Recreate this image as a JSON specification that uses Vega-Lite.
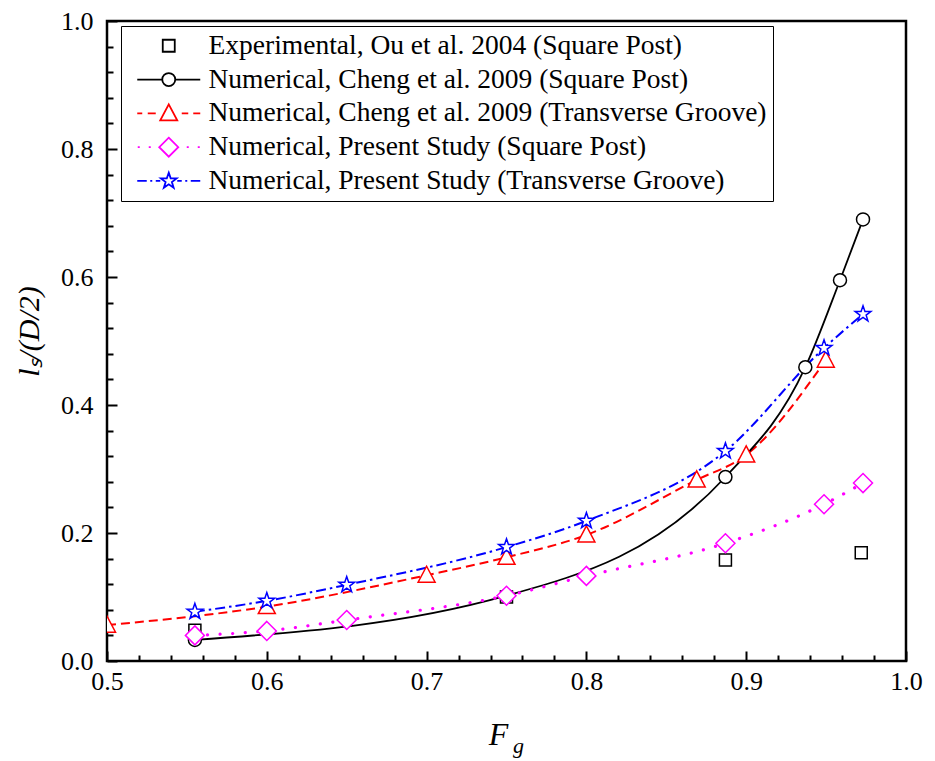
{
  "$schema": "https://vega.github.io/schema/vega-lite/v6.json",
  "autosize": "none",
  "width": 799,
  "height": 640,
  "padding": {"left": 107, "top": 21, "right": 29, "bottom": 100},
  "background": "white",
  "title": {"text": "g", "orient": "bottom", "anchor": "middle", "dx": 12, "offset": -14, "font": "Liberation Serif", "fontSize": 22, "fontStyle": "italic", "fontWeight": "normal", "color": "black"},
  "config": {
    "view": {"stroke": "black", "strokeWidth": 2.5},
    "font": "Liberation Serif"
  },
  "data": {"values": [
    {"series": "Experimental, Ou et al. 2004 (Square Post)", "x": 0.555, "y": 0.048},
    {"series": "Experimental, Ou et al. 2004 (Square Post)", "x": 0.75, "y": 0.1},
    {"series": "Experimental, Ou et al. 2004 (Square Post)", "x": 0.887, "y": 0.158},
    {"series": "Experimental, Ou et al. 2004 (Square Post)", "x": 0.972, "y": 0.169},
    {"series": "Numerical, Cheng et al. 2009 (Square Post)", "x": 0.555, "y": 0.033},
    {"series": "Numerical, Cheng et al. 2009 (Square Post)", "x": 0.75, "y": 0.102},
    {"series": "Numerical, Cheng et al. 2009 (Square Post)", "x": 0.887, "y": 0.2875},
    {"series": "Numerical, Cheng et al. 2009 (Square Post)", "x": 0.937, "y": 0.459},
    {"series": "Numerical, Cheng et al. 2009 (Square Post)", "x": 0.9587, "y": 0.595},
    {"series": "Numerical, Cheng et al. 2009 (Square Post)", "x": 0.9731, "y": 0.69},
    {"series": "Numerical, Cheng et al. 2009 (Transverse Groove)", "x": 0.5, "y": 0.056},
    {"series": "Numerical, Cheng et al. 2009 (Transverse Groove)", "x": 0.6, "y": 0.085},
    {"series": "Numerical, Cheng et al. 2009 (Transverse Groove)", "x": 0.7, "y": 0.134},
    {"series": "Numerical, Cheng et al. 2009 (Transverse Groove)", "x": 0.75, "y": 0.162},
    {"series": "Numerical, Cheng et al. 2009 (Transverse Groove)", "x": 0.8, "y": 0.197},
    {"series": "Numerical, Cheng et al. 2009 (Transverse Groove)", "x": 0.869, "y": 0.283},
    {"series": "Numerical, Cheng et al. 2009 (Transverse Groove)", "x": 0.9, "y": 0.322},
    {"series": "Numerical, Cheng et al. 2009 (Transverse Groove)", "x": 0.9498, "y": 0.47},
    {"series": "Numerical, Present Study (Square Post)", "x": 0.555, "y": 0.04},
    {"series": "Numerical, Present Study (Square Post)", "x": 0.6, "y": 0.047},
    {"series": "Numerical, Present Study (Square Post)", "x": 0.65, "y": 0.064},
    {"series": "Numerical, Present Study (Square Post)", "x": 0.75, "y": 0.102},
    {"series": "Numerical, Present Study (Square Post)", "x": 0.8, "y": 0.133},
    {"series": "Numerical, Present Study (Square Post)", "x": 0.887, "y": 0.184},
    {"series": "Numerical, Present Study (Square Post)", "x": 0.9487, "y": 0.245},
    {"series": "Numerical, Present Study (Square Post)", "x": 0.9731, "y": 0.278},
    {"series": "Numerical, Present Study (Transverse Groove)", "x": 0.555, "y": 0.077},
    {"series": "Numerical, Present Study (Transverse Groove)", "x": 0.6, "y": 0.094},
    {"series": "Numerical, Present Study (Transverse Groove)", "x": 0.65, "y": 0.119},
    {"series": "Numerical, Present Study (Transverse Groove)", "x": 0.75, "y": 0.178},
    {"series": "Numerical, Present Study (Transverse Groove)", "x": 0.8, "y": 0.219},
    {"series": "Numerical, Present Study (Transverse Groove)", "x": 0.887, "y": 0.328},
    {"series": "Numerical, Present Study (Transverse Groove)", "x": 0.9487, "y": 0.489},
    {"series": "Numerical, Present Study (Transverse Groove)", "x": 0.9731, "y": 0.542}
  ]},
  "layer": [
    {
      "encoding": {
        "x": {"field": "x", "type": "quantitative",
          "scale": {"domain": [0.5, 1.0], "nice": false, "zero": false},
          "axis": {
            "orient": "bottom", "offset": -10, "domain": false, "zindex": 1,
            "values": [0.5, 0.6, 0.7, 0.8, 0.9, 1.0],
            "format": ".1f",
            "ticks": true, "tickSize": 10, "tickWidth": 2, "tickColor": "black", "tickOpacity": 1,
            "grid": false,
            "labelFlush": false, "labelOverlap": false,
            "labelFont": "Liberation Serif", "labelFontSize": 26, "labelColor": "black", "labelPadding": 7,
            "title": "F", "titleFont": "Liberation Serif", "titleFontSize": 32, "titleFontStyle": "italic", "titleFontWeight": "normal", "titleColor": "black", "titlePadding": 25, "titleX": 391
          }},
        "y": {"field": "y", "type": "quantitative",
          "scale": {"domain": [0, 1.0], "nice": false, "zero": false},
          "axis": {
            "orient": "left", "offset": -10, "domain": false, "zindex": 1,
            "values": [0, 0.2, 0.4, 0.6, 0.8, 1.0],
            "format": ".1f",
            "ticks": true, "tickSize": 10, "tickWidth": 2, "tickColor": "black", "tickOpacity": 1,
            "grid": false,
            "labelFlush": false, "labelOverlap": false,
            "labelFont": "Liberation Serif", "labelFontSize": 26, "labelColor": "black", "labelPadding": 14,
            "title": "lₛ/(D/2)", "titleFont": "Liberation Serif", "titleFontSize": 30, "titleFontStyle": "italic", "titleFontWeight": "normal", "titleColor": "black", "titlePadding": 16, "titleY": 310
          }}
      },
      "layer": [
        {"transform": [{"filter": "datum.series == 'Numerical, Cheng et al. 2009 (Transverse Groove)'"}],
         "mark": {"type": "line", "interpolate": "monotone", "color": "#FF0000", "strokeWidth": 2, "strokeDash": [9, 5], "clip": true}},
        {"transform": [{"filter": "datum.series == 'Numerical, Cheng et al. 2009 (Square Post)'"}],
         "mark": {"type": "line", "interpolate": "monotone", "color": "black", "strokeWidth": 1.8, "clip": true}},
        {"transform": [{"filter": "datum.series == 'Numerical, Present Study (Square Post)'"}],
         "mark": {"type": "line", "interpolate": "monotone", "color": "#FF00FF", "strokeWidth": 3.2, "strokeDash": [0.1, 12.5], "strokeCap": "round", "clip": true}},
        {"transform": [{"filter": "datum.series == 'Numerical, Present Study (Transverse Groove)'"}],
         "mark": {"type": "line", "interpolate": "monotone", "color": "#0000FF", "strokeWidth": 2, "strokeDash": [10, 4, 2.5, 4], "clip": true}},
        {"transform": [{"filter": "datum.series == 'Experimental, Ou et al. 2004 (Square Post)'"}],
         "mark": {"type": "point", "shape": "M-6,-6H6V6H-6Z", "size": 4, "filled": true, "fill": "white", "stroke": "black", "strokeWidth": 1.5, "opacity": 1, "clip": true}},
        {"transform": [{"filter": "datum.series == 'Numerical, Cheng et al. 2009 (Square Post)'"}],
         "mark": {"type": "point", "shape": "M6.5,0A6.5,6.5,0,1,1,-6.5,0A6.5,6.5,0,1,1,6.5,0Z", "size": 4, "filled": true, "fill": "white", "stroke": "black", "strokeWidth": 1.5, "opacity": 1, "clip": true}},
        {"transform": [{"filter": "datum.series == 'Numerical, Cheng et al. 2009 (Transverse Groove)'"}],
         "mark": {"type": "point", "shape": "M0,-9L8.5,7L-8.5,7Z", "size": 4, "filled": true, "fill": "white", "stroke": "#FF0000", "strokeWidth": 1.5, "opacity": 1, "clip": true}},
        {"transform": [{"filter": "datum.series == 'Numerical, Present Study (Square Post)'"}],
         "mark": {"type": "point", "shape": "M0,-9.5L9.5,0L0,9.5L-9.5,0Z", "size": 4, "filled": true, "fill": "white", "stroke": "#FF00FF", "strokeWidth": 1.5, "opacity": 1, "clip": true}},
        {"transform": [{"filter": "datum.series == 'Numerical, Present Study (Transverse Groove)'"}],
         "mark": {"type": "point", "shape": "M0,-8.3L1.94,-2.67L7.89,-2.56L3.14,1.02L4.88,6.71L0,3.3L-4.88,6.71L-3.14,1.02L-7.89,-2.56L-1.94,-2.67Z", "size": 4, "filled": true, "fill": "white", "stroke": "#0000FF", "strokeWidth": 1.5, "opacity": 1, "clip": true}},
        {"transform": [{"filter": "datum.y > 5"}],
         "mark": {"type": "point", "filled": false, "size": 4, "strokeWidth": 1.8},
         "encoding": {
           "stroke": {"field": "series", "type": "nominal",
             "legend": {"title": null, "orient": "none", "legendX": 14, "legendY": 5, "direction": "vertical",
               "padding": 6, "strokeColor": "black", "fillColor": "white",
               "labelFont": "Liberation Serif", "labelFontSize": 27.5, "labelColor": "black", "labelLimit": 1000,
               "symbolSize": 4, "symbolOffset": 28, "labelOffset": 26, "rowPadding": 4.8, "symbolStrokeWidth": 1.8, "symbolOpacity": 1},
             "scale": {"domain": ["Experimental, Ou et al. 2004 (Square Post)", "Numerical, Cheng et al. 2009 (Square Post)", "Numerical, Cheng et al. 2009 (Transverse Groove)", "Numerical, Present Study (Square Post)", "Numerical, Present Study (Transverse Groove)"],
                       "range": ["black", "black", "#FF0000", "#FF00FF", "#0000FF"]}},
           "shape": {"field": "series", "type": "nominal",
             "legend": {"title": null, "orient": "none", "legendX": 14, "legendY": 5, "direction": "vertical",
               "padding": 6, "strokeColor": "black", "fillColor": "white",
               "labelFont": "Liberation Serif", "labelFontSize": 27.5, "labelColor": "black", "labelLimit": 1000,
               "symbolSize": 4, "symbolOffset": 28, "labelOffset": 26, "rowPadding": 4.8, "symbolStrokeWidth": 1.8, "symbolOpacity": 1},
             "scale": {"domain": ["Experimental, Ou et al. 2004 (Square Post)", "Numerical, Cheng et al. 2009 (Square Post)", "Numerical, Cheng et al. 2009 (Transverse Groove)", "Numerical, Present Study (Square Post)", "Numerical, Present Study (Transverse Groove)"],
                       "range": ["M-6,-6H6V6H-6Z",
                                 "M-31.5,0H-6.5M6.5,0H31.5M6.5,0A6.5,6.5,0,1,1,-6.5,0A6.5,6.5,0,1,1,6.5,0Z",
                                 "M-31.5,0H-26.5M-21,0H-13M13,0H19.5M24.5,0H31.5M0,-9L8.5,7L-8.5,7Z",
                                 "M-31,0H-29M-20,0H-18M18,0H20M29,0H31M0,-9.5L9.5,0L0,9.5L-9.5,0Z",
                                 "M-31.5,0H-22M-18.5,0H-16.5M-13,0H-8.5M8.5,0H13M16.5,0H18.5M22,0H31.5M0,-8.3L1.94,-2.67L7.89,-2.56L3.14,1.02L4.88,6.71L0,3.3L-4.88,6.71L-3.14,1.02L-7.89,-2.56L-1.94,-2.67Z"]}}
         }}
      ]
    },
    {
      "transform": [{"filter": "datum.y > 5"}],
      "mark": {"type": "point", "size": 1},
      "encoding": {
        "x": {"field": "x", "type": "quantitative",
          "scale": {"domain": [0.5, 1.0], "nice": false, "zero": false},
          "axis": {"orient": "bottom", "offset": -6, "zindex": 1, "values": [0.52,0.54,0.56,0.58,0.62,0.64,0.66,0.68,0.72,0.74,0.76,0.78,0.82,0.84,0.86,0.88,0.92,0.94,0.96,0.98],
            "labels": false, "domain": false, "title": null, "ticks": true, "tickSize": 6, "tickWidth": 2, "tickColor": "black", "tickOpacity": 1, "grid": false}},
        "y": {"field": "y", "type": "quantitative",
          "scale": {"domain": [0, 1.0], "nice": false, "zero": false},
          "axis": {"orient": "left", "offset": -6, "zindex": 1, "values": [0.04,0.08,0.12,0.16,0.24,0.28,0.32,0.36,0.44,0.48,0.52,0.56,0.64,0.68,0.72,0.76,0.84,0.88,0.92,0.96],
            "labels": false, "domain": false, "title": null, "ticks": true, "tickSize": 6, "tickWidth": 2, "tickColor": "black", "tickOpacity": 1, "grid": false}}
      }
    }
  ],
  "resolve": {"axis": {"x": "independent", "y": "independent"}}
}
